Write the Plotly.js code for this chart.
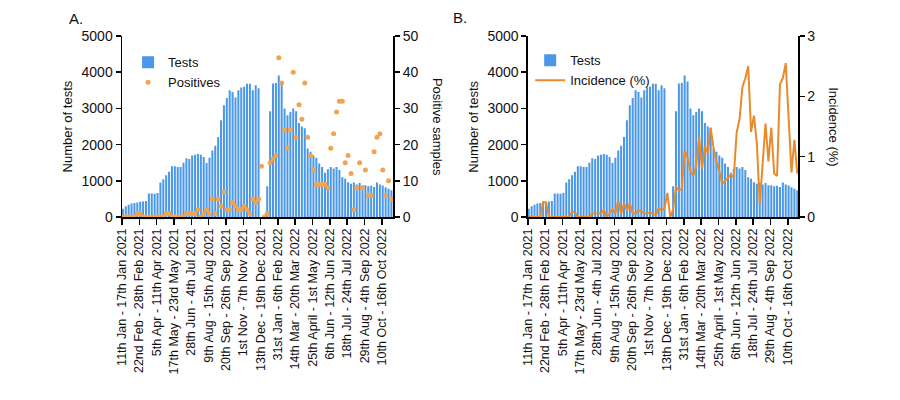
<!DOCTYPE html>
<html>
<head>
<meta charset="utf-8">
<script src="https://cdn.plot.ly/plotly-3.0.1.min.js"></script>
<style>html,body{margin:0;padding:0;background:#fff;}#chart{width:900px;height:400px;}</style>
</head>
<body>
<div id="chart"></div>
<script>
// Weekly number of tests (one value per week category; null = no bar)
const tests = [
  230,300,340,370,390,400,420,430,440,650,
  650,640,660,950,1040,1150,1250,1400,1400,1380,
  1380,1500,1620,1600,1700,1720,1740,1720,1660,1490,
  1640,1840,1970,2210,2670,3085,3290,3500,3450,3300,
  3500,3580,3600,3680,3680,3500,3640,3560,null,null,
  850,2920,3685,3700,3910,3740,3000,2810,2900,3000,
  2920,2600,2500,2450,1890,1800,1700,1640,1475,1380,
  1220,1320,1380,1340,1380,1300,1100,1060,960,920,
  950,900,940,880,880,850,860,830,950,900,
  870,820,780,740
];
// Weekly positive samples
const positives = [
  0,0,0,0,0,1,1,0,0,0,
  0,0,0,0,0,1,1,0,0,0,
  0,0,1,1,1,1,2,0,1,2,
  1,5,1,5,3,7,2,2,4,3,
  2,2,3,2,1,5,4,5,14,0,
  1,15,16,17,44,37,24,19,24,40,
  22,31,27,37,22,17,13,9,9,9,
  9,8,19,23,29,32,32,15,17,12,
  2,8,15,8,13,6,6,18,22,23,
  13,6,10,5
];
// Weekly incidence (%)
const incidence = [
  0,0,0,0,0,0.25,0.24,0,0,0,
  0,0,0,0,0,0.09,0.08,0,0,0,
  0,0,0.06,0.06,0.06,0.06,0.12,0,0.06,0.13,
  0.06,0.27,0.05,0.23,0.11,0.23,0.06,0.06,0.12,0.09,
  0.06,0.06,0.08,0.05,0.03,0.14,0.11,0.14,0.40,0,
  0.12,0.50,0.44,0.47,1.10,0.98,0.76,0.68,0.85,1.32,
  0.80,1.18,1.06,1.48,1.15,0.92,0.76,0.55,0.60,0.65,
  0.70,0.66,1.40,1.62,2.15,2.30,2.50,1.41,1.68,1.22,
  0.21,0.88,1.55,0.92,1.48,0.72,0.68,2.20,2.30,2.55,
  1.62,0.74,1.28,0.72
];
// Tick positions (week index) and their labels
const tickWeeks = [0,6,12,18,24,30,36,42,48,54,60,66,72,78,84,90];
const tickLabels = [
  "11th Jan - 17th Jan 2021","22nd Feb - 28th Feb 2021","5th Apr - 11th Apr 2021",
  "17th May - 23rd May 2021","28th Jun - 4th Jul 2021","9th Aug - 15th Aug 2021",
  "20th Sep - 26th Sep 2021","1st Nov - 7th Nov 2021","13th Dec - 19th Dec 2021",
  "31st Jan - 6th Feb 2022","14th Mar - 20th Mar 2022","25th April - 1st May 2022",
  "6th Jun - 12th Jun 2022","18th Jul - 24th Jul 2022","29th Aug - 4th Sep 2022",
  "10th Oct - 16th Oct 2022"
];

const weeks = tests.map((_, i) => i);
const FONT = "Liberation Sans, Arial, sans-serif";
const TXT = "#111111";
const BLUE = "#4b98e8";
const ORANGE_DOT = "#f0a452";
const ORANGE_LINE = "#e98a2c";

const traces = [
  {type:"bar", x:weeks, y:tests, name:"Tests", xaxis:"x", yaxis:"y",
   marker:{color:BLUE, line:{width:0}}, legend:"legend"},
  {type:"scatter", mode:"markers", x:weeks, y:positives, name:"Positives", xaxis:"x", yaxis:"y2",
   marker:{color:ORANGE_DOT, size:5}, cliponaxis:false, legend:"legend"},
  {type:"bar", x:weeks, y:tests, name:"Tests", xaxis:"x2", yaxis:"y3",
   marker:{color:BLUE, line:{width:0}}, legend:"legend2"},
  {type:"scatter", mode:"lines", x:weeks, y:incidence, name:"Incidence (%)", xaxis:"x2", yaxis:"y4",
   line:{color:ORANGE_LINE, width:2}, legend:"legend2"}
];

const tickOffset = 0.3;
const xCommon = {
  tickvals: tickWeeks.map(v => v - tickOffset), ticktext: tickLabels, tickangle: -90,
  ticks: "outside", ticklen: 6, tickwidth: 1.5, tickcolor: "#000",
  ticklabelstandoff: -1,
  showline: true, linewidth: 1.5, linecolor: "#000", showgrid: false, zeroline: false,
  tickfont: {family: FONT, size: 12.5, color: TXT}
};
const yCommon = {
  ticks: "outside", ticklen: 5, tickwidth: 1.5, tickcolor: "#000",
  showline: true, linewidth: 1.5, linecolor: "#000", showgrid: false, zeroline: false,
  tickfont: {family: FONT, size: 14, color: TXT}
};

function label(text, x, y, angle, size) {
  return {text: text, xref: "paper", yref: "paper", x: x, y: y, textangle: angle || 0,
          xanchor: "center", yanchor: "middle", showarrow: false,
          font: {family: FONT, size: size, color: TXT}};
}

const layout = {
  width: 900, height: 400,
  margin: {l: 122, r: 102.3, t: 35.7, b: 183.3},
  paper_bgcolor: "#fff", plot_bgcolor: "#fff",
  bargap: 0.3,
  font: {family: FONT, color: TXT},
  xaxis: Object.assign({}, xCommon, {domain: [0, 0.4015], range: [-tickOffset, 94 - tickOffset], anchor: "y"}),
  yaxis: Object.assign({}, yCommon, {range: [0, 5000], dtick: 1000, anchor: "x"}),
  yaxis2: Object.assign({}, yCommon, {range: [0, 50], dtick: 10, overlaying: "y", side: "right", anchor: "x"}),
  xaxis2: Object.assign({}, xCommon, {domain: [0.6004, 1], range: [-tickOffset, 93.55 - tickOffset], anchor: "y3"}),
  yaxis3: Object.assign({}, yCommon, {range: [0, 5000], dtick: 1000, anchor: "x2"}),
  yaxis4: Object.assign({}, yCommon, {range: [0, 3], dtick: 1, overlaying: "y3", side: "right", anchor: "x2"}),
  legend: {x: 0.009, y: 0.9376, xanchor: "left", yanchor: "top", bgcolor: "rgba(0,0,0,0)",
           font: {family: FONT, size: 13, color: TXT}},
  legend2: {x: 0.6038, y: 0.9486, xanchor: "left", yanchor: "top", bgcolor: "rgba(0,0,0,0)",
           font: {family: FONT, size: 13, color: TXT}},
  annotations: [
    label("A.", -0.068, 1.0978, 0, 15),
    label("B.", 0.5002, 1.1033, 0, 15),
    label("Number of tests", -0.0799, 0.5, -90, 13),
    label("Positive samples", 0.4669, 0.5, 90, 13),
    label("Number of tests", 0.5195, 0.5, -90, 13),
    label("Incidence (%)", 1.0523, 0.5, 90, 13)
  ]
};

Plotly.newPlot("chart", traces, layout, {displayModeBar: false, staticPlot: true});
</script>
</body>
</html>
